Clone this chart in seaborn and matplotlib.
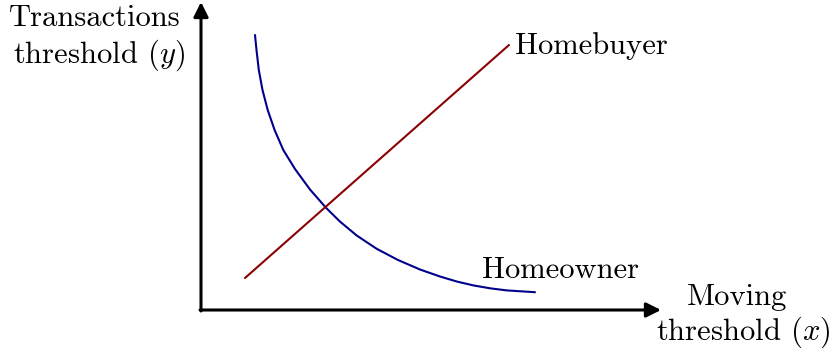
import numpy as np
import pandas as pd
import matplotlib
matplotlib.use("Agg")
import matplotlib.pyplot as plt
import seaborn as sns

# Style: plain white, Computer Modern look
sns.set_theme(style="white")
plt.rcParams["font.family"] = ["cmr10", "DejaVu Serif"]
plt.rcParams["mathtext.fontset"] = "cm"
plt.rcParams["axes.formatter.use_mathtext"] = True
plt.rcParams["text.color"] = "black"

# Homeowner curve
owner_x = [0.54, 0.555, 0.578, 0.615, 0.667, 0.736, 0.823, 0.94, 1.09, 1.25,
           1.39, 1.557, 1.757, 1.97, 2.19, 2.39, 2.557, 2.723, 2.89, 3.057, 3.34]
owner_y = [2.75, 2.60, 2.40, 2.20, 2.00, 1.80, 1.60, 1.41, 1.205, 1.022,
           0.884, 0.745, 0.612, 0.50, 0.405, 0.335, 0.285, 0.246, 0.217, 0.196, 0.178]

# Homebuyer line
buyer_x = [0.44, 3.08]
buyer_y = [0.32, 2.65]

# Labels
x_label = ["Moving", "threshold ($x$)"]
y_label = ["Transactions", "threshold ($y$)"]
owner_label = "Homeowner"
buyer_label = "Homebuyer"

df_owner = pd.DataFrame({"x": owner_x, "y": owner_y})
df_buyer = pd.DataFrame({"x": buyer_x, "y": buyer_y})

fig = plt.figure(figsize=(8.37, 3.54), dpi=100)
ax = fig.add_axes([0, 0, 1, 1])

sns.lineplot(data=df_owner, x="x", y="y", sort=False, estimator=None,
             color="#00008B", lw=1.5, ax=ax)
sns.lineplot(data=df_buyer, x="x", y="y", sort=False, estimator=None,
             color="#8B0000", lw=1.5, ax=ax)

# Axes drawn as arrows from the origin
arrow = dict(arrowstyle="-|>", lw=2.2, color="black", mutation_scale=22,
             shrinkA=0, shrinkB=0)
ax.annotate("", xy=(0, 3.08), xytext=(0, -0.01), arrowprops=arrow)
ax.annotate("", xy=(4.60, 0), xytext=(-0.01, 0), arrowprops=arrow)

fs = 22
ax.text(-1.06, 2.835, y_label[0], fontsize=fs, ha="center", va="baseline")
ax.text(-1.02, 2.47, y_label[1], fontsize=fs, ha="center", va="baseline")
ax.text(5.36, 0.05, x_label[0], fontsize=fs, ha="center", va="baseline")
ax.text(5.42, -0.30, x_label[1], fontsize=fs, ha="center", va="baseline")
ax.text(3.14, 2.64, buyer_label, fontsize=fs, ha="left", va="center")
ax.text(2.81, 0.40, owner_label, fontsize=fs, ha="left", va="center")

ax.set_xlim(-2.01, 6.36)
ax.set_ylim(-0.44, 3.10)
ax.axis("off")

fig.savefig("out.png", dpi=100)
